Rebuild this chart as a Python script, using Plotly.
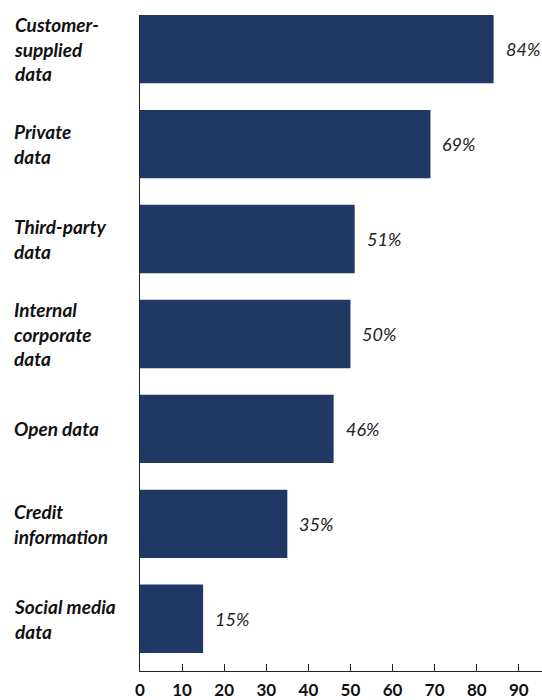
import plotly.graph_objects as go

categories = ["Customer-<br>supplied<br>data", "Private<br>data", "Third-party<br>data",
              "Internal<br>corporate<br>data", "Open data", "Credit<br>information",
              "Social media<br>data"]
values = [84, 69, 51, 50, 46, 35, 15]
tick_vals = [0, 10, 20, 30, 40, 50, 60, 70, 80, 90]

FONT = "Lato"
BAR = "#1f3864"

n = len(categories)
ypos = [n - 1 - i for i in range(n)]

fig = go.Figure()
fig.add_trace(go.Bar(
    x=values, y=ypos, orientation="h",
    marker=dict(color=BAR, line=dict(width=0)),
    width=0.72, hoverinfo="skip",
))

L, R, T, B = 140, 0, 15, 26
W, H = 542, 700
plot_w = W - L - R

ann = []
for c, v, y in zip(categories, values, ypos):
    ann.append(dict(x=v, y=y, xref="x", yref="y", text=f"<i>{v}%</i>",
                    showarrow=False, xanchor="left", yanchor="middle", xshift=10,
                    font=dict(family=FONT, size=18, color="#222222")))
    ann.append(dict(x=-(L - 12) / plot_w, y=y, xref="paper", yref="y",
                    text=f"<b><i>{c}</i></b>", showarrow=False, xanchor="left",
                    yanchor="middle", align="left",
                    font=dict(family=FONT, size=19, color="#111111")))

fig.update_layout(
    width=W, height=H,
    margin=dict(l=L, r=R, t=T, b=B, pad=0),
    plot_bgcolor="white", paper_bgcolor="white",
    showlegend=False,
    annotations=ann,
    xaxis=dict(range=[0, 95.5], tickvals=tick_vals, ticktext=[f"<b>{t}</b>" for t in tick_vals],
               ticks="inside", ticklen=7, tickcolor="#222222", tickwidth=1,
               showline=True, linecolor="#222222", linewidth=1,
               showgrid=False, zeroline=False, ticklabelstandoff=4,
               tickfont=dict(family=FONT, size=17, color="#111111")),
    yaxis=dict(range=[-0.55, n - 1 + 0.36], showticklabels=False, ticks="",
               showline=True, linecolor="#222222", linewidth=1,
               showgrid=False, zeroline=False),
)

fig.write_html("out.html")
